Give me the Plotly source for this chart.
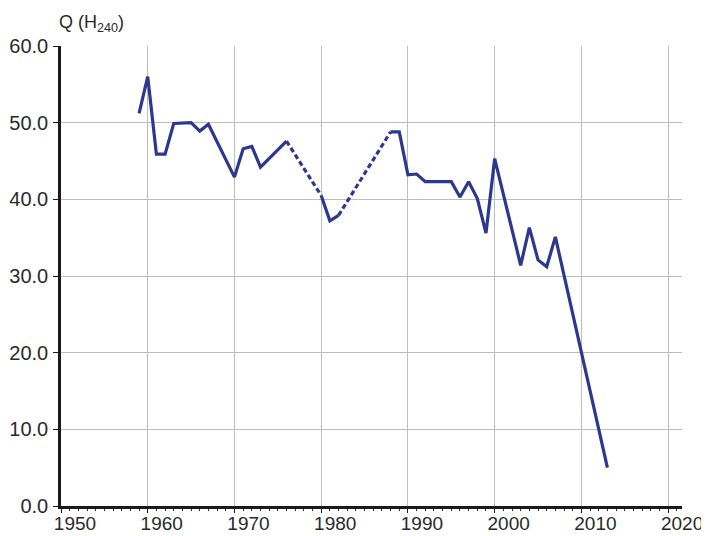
import plotly.graph_objects as go

# Solid (observed) segments; None separates segments
solid_years = [1959, 1960, 1961, 1962, 1963, 1965, 1966, 1967, 1970, 1971, 1972, 1973, 1976,
               None,
               1980, 1981, 1982,
               None,
               1988, 1989, 1990, 1991, 1992, 1995, 1996, 1997, 1998, 1999, 2000,
               2003, 2004, 2005, 2006, 2007, 2013]
solid_q = [51.2, 56.0, 45.9, 45.9, 49.9, 50.0, 48.9, 49.8, 42.9, 46.6, 46.9, 44.2, 47.6,
           None,
           40.5, 37.2, 37.9,
           None,
           48.8, 48.8, 43.2, 43.3, 42.3, 42.3, 40.3, 42.3, 40.1, 35.6, 45.3,
           31.4, 36.3, 32.1, 31.2, 35.1, 5.0]

# Dashed (gap) segments
dashed_years = [1976, 1980, None, 1982, 1988]
dashed_q = [47.6, 40.5, None, 37.9, 48.8]

x_ticks = [1950, 1960, 1970, 1980, 1990, 2000, 2010, 2020]
y_ticks = [0, 10, 20, 30, 40, 50, 60]
y_tick_labels = ["0.0", "10.0", "20.0", "30.0", "40.0", "50.0", "60.0"]

line_color = "#2c3890"

fig = go.Figure()
fig.add_trace(go.Scatter(x=solid_years, y=solid_q, mode="lines",
                         line=dict(color=line_color, width=3.2), connectgaps=False,
                         showlegend=False, hoverinfo="skip"))
fig.add_trace(go.Scatter(x=dashed_years, y=dashed_q, mode="lines",
                         line=dict(color=line_color, width=3.2, dash="5px,3px"),
                         connectgaps=False, showlegend=False, hoverinfo="skip"))

font_family = "Liberation Sans, Arial, sans-serif"

fig.update_layout(
    width=709, height=536,
    margin=dict(l=53, r=35, t=38, b=38, autoexpand=False),
    paper_bgcolor="white", plot_bgcolor="white",
    font=dict(family=font_family, size=20, color="#2a2a2a"),
    xaxis=dict(
        range=[1950, 2021.6], tickmode="array", tickvals=x_ticks,
        ticktext=[str(t) for t in x_ticks],
        tickfont=dict(size=19),
        showgrid=True, gridcolor="#bdbdbd", gridwidth=1,
        showline=True, linecolor="#1a1a1a", linewidth=2.5,
        ticks="outside", ticklen=4, tickcolor="#1a1a1a", tickwidth=1,
        ticklabelshift=14, ticklabelstandoff=-6,
        minor=dict(ticks="outside", ticklen=2, dtick=1, tickcolor="#333", showgrid=False),
        zeroline=False, fixedrange=True, automargin=False,
    ),
    yaxis=dict(
        range=[0, 60], tickmode="array", tickvals=y_ticks, ticktext=y_tick_labels,
        showgrid=True, gridcolor="#bdbdbd", gridwidth=1,
        showline=True, linecolor="#1a1a1a", linewidth=2.5,
        ticks="outside", ticklen=5, tickcolor="#1a1a1a", tickwidth=1,
        ticklabelstandoff=1,
        zeroline=False, fixedrange=True, automargin=False,
    ),
    annotations=[dict(
        text="Q (H<sub>240</sub>)", xref="paper", yref="paper",
        x=-0.006, y=1.0, xanchor="left", yanchor="bottom", yshift=9,
        showarrow=False, font=dict(family=font_family, size=18, color="#2a2a2a"),
    )],
)

fig.write_html("out.html")
